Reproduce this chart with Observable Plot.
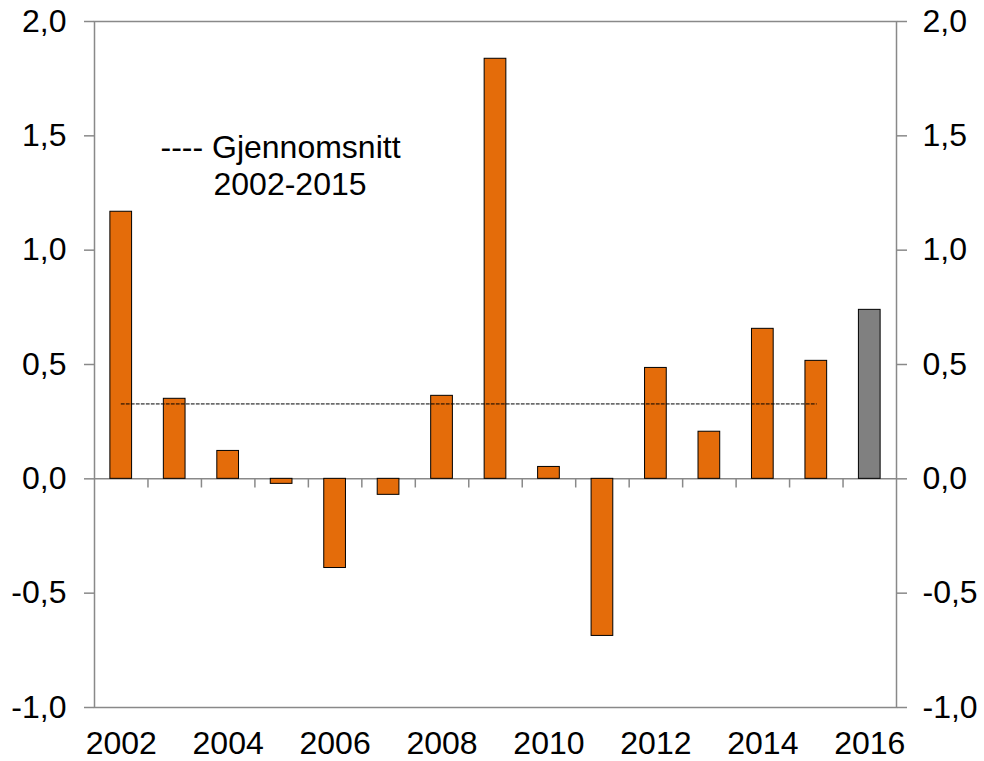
<!DOCTYPE html>
<html>
<head>
<meta charset="utf-8">
<script src="https://cdn.jsdelivr.net/npm/d3@7"></script>
<script src="https://cdn.jsdelivr.net/npm/@observablehq/plot@0.6"></script>
<style>
  html, body { margin: 0; padding: 0; background: #fff; }
  #chart { width: 984px; height: 761px; }
</style>
</head>
<body>
<div id="chart"></div>
<script>
const years = [2002, 2003, 2004, 2005, 2006, 2007, 2008, 2009, 2010, 2011, 2012, 2013, 2014, 2015, 2016];
const values = [1.168, 0.35, 0.122, -0.022, -0.39, -0.07, 0.363, 1.837, 0.052, -0.687, 0.485, 0.206, 0.656, 0.516, 0.739];
const xTickLabels = [2002, 2004, 2006, 2008, 2010, 2012, 2014, 2016];
const yTicks = [-1, -0.5, 0, 0.5, 1, 1.5, 2];
const legendLines = ["---- Gjennomsnitt", "2002-2015"];

const data = years.map((y, i) => ({ year: y, value: values[i], grey: y === 2016 }));
const hist = data.filter(d => d.year <= 2015);
const mean = d3.mean(hist, d => d.value);
const meanLine = [{ year: 2002, value: mean }, { year: 2015, value: mean }];

const fmt = d => d.toFixed(1).replace(".", ",");
const axisColor = "#898989";
const font = "Liberation Sans, Arial, sans-serif";

const chart = Plot.plot({
  width: 984,
  height: 761,
  marginLeft: 94,
  marginRight: 88,
  marginTop: 21,
  marginBottom: 54,
  style: { fontFamily: font, fontSize: "32px", color: "#000", background: "#fff" },
  x: { type: "band", domain: years, paddingInner: 0.594, paddingOuter: 0.297, round: false },
  y: { domain: [-1, 2] },
  marks: [
    Plot.frame({ stroke: axisColor, strokeWidth: 1.5 }),
    Plot.ruleY([0], { stroke: axisColor, strokeWidth: 1.5 }),
    Plot.ruleX(years.slice(1), { x: d => d, dx: -26.73, y1: 0, y2: -0.04, stroke: axisColor, strokeWidth: 1.5 }),
    Plot.barY(data, { x: "year", y: "value", fill: d => d.grey ? "#808080" : "#E46C0A", stroke: "#000", strokeWidth: 1 }),
    Plot.line(meanLine, { x: "year", y: "value", stroke: "#000", strokeWidth: 1, strokeDasharray: "3,2" }),
    Plot.axisY({ anchor: "left", ticks: yTicks, tickFormat: fmt, tickSize: 10, tickPadding: 18, stroke: axisColor, strokeWidth: 1.5, fontSize: 32, fill: "#000", label: null }),
    Plot.axisY({ anchor: "right", ticks: yTicks, tickFormat: fmt, tickSize: 10, tickPadding: 16, stroke: axisColor, strokeWidth: 1.5, fontSize: 32, fill: "#000", label: null }),
    Plot.axisX({ ticks: xTickLabels, tickFormat: d => String(d), tickSize: 0, tickPadding: 24, fontSize: 32, fill: "#000", label: null }),
    Plot.text([legendLines[0]], { frameAnchor: "top-left", dx: 66, dy: 114, textAnchor: "start", fontSize: 32, fill: "#000" }),
    Plot.text([legendLines[1]], { frameAnchor: "top-left", dx: 119, dy: 151, textAnchor: "start", fontSize: 32, fill: "#000" })
  ]
});
document.getElementById("chart").appendChild(chart);
</script>
</body>
</html>
